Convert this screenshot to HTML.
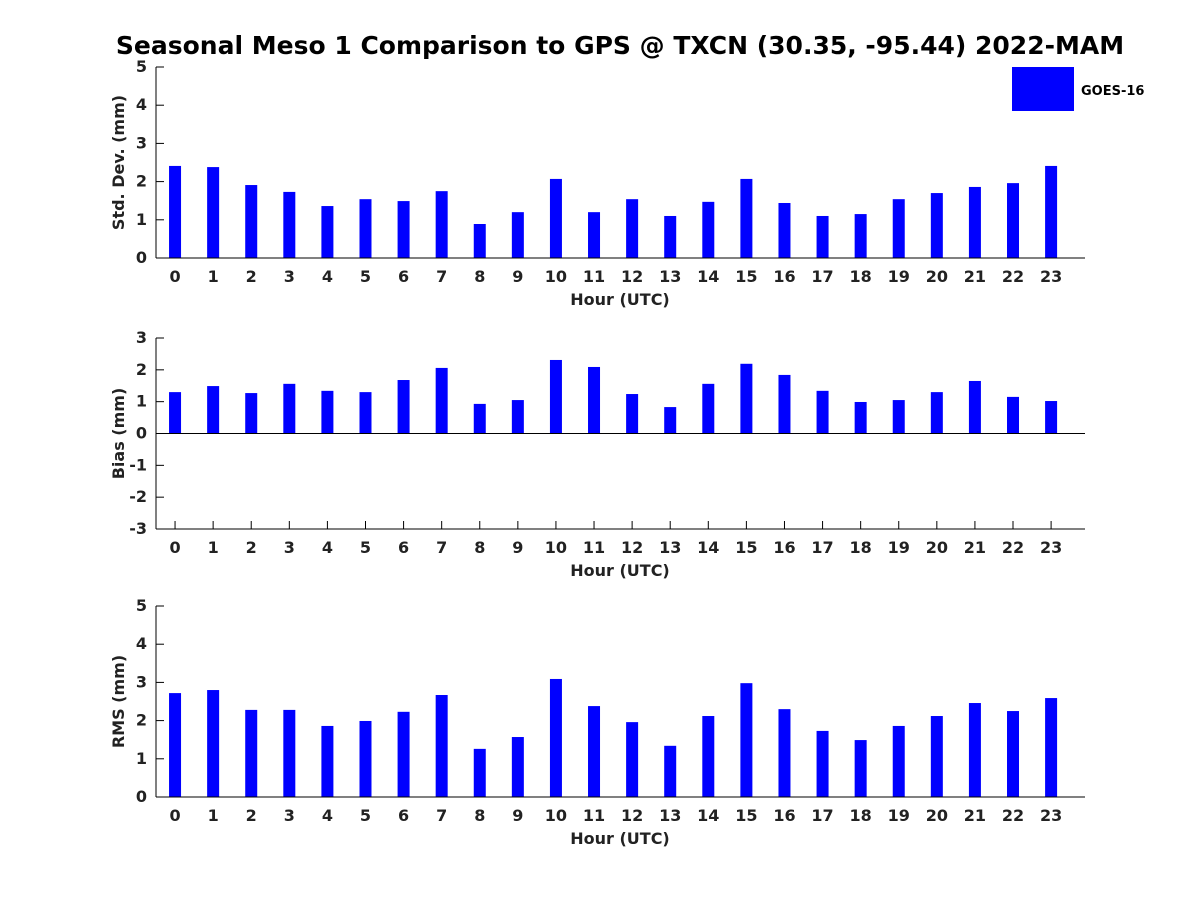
<!DOCTYPE html>
<html><head><meta charset="utf-8"><style>
body{margin:0;background:#fff;}
svg{display:block;font-family:"DejaVu Sans","Liberation Sans",sans-serif;font-weight:bold;}
</style></head><body>
<svg id="chart" width="1200" height="900">
<text x="620" y="54" font-size="25" text-anchor="middle" fill="#000">Seasonal Meso 1 Comparison to GPS @ TXCN (30.35, -95.44) 2022-MAM</text>
<g>
<rect x="1012" y="67" width="62" height="44" fill="#0000ff"></rect>
<text x="1081" y="95" font-size="13" fill="#000">GOES-16</text>
</g>
</svg>
<script>
const hours = [0,1,2,3,4,5,6,7,8,9,10,11,12,13,14,15,16,17,18,19,20,21,22,23];
const stdValues = [2.41,2.38,1.91,1.73,1.36,1.54,1.49,1.75,0.89,1.2,2.07,1.2,1.54,1.1,1.47,2.07,1.44,1.1,1.15,1.54,1.7,1.86,1.96,2.41];
const biasValues = [1.3,1.49,1.27,1.56,1.34,1.3,1.68,2.06,0.93,1.05,2.31,2.09,1.24,0.83,1.56,2.19,1.84,1.34,0.99,1.05,1.3,1.65,1.15,1.02];
const rmsValues = [2.72,2.8,2.28,2.28,1.86,1.99,2.23,2.67,1.26,1.57,3.09,2.38,1.96,1.34,2.12,2.98,2.3,1.73,1.49,1.86,2.12,2.46,2.25,2.59];
const stdTicks = [0,1,2,3,4,5];
const biasTicks = [-3,-2,-1,0,1,2,3];
const rmsTicks = [0,1,2,3,4,5];

const NS='http://www.w3.org/2000/svg';
const svg=document.getElementById('chart');
function mk(tag,attrs,parent){const e=document.createElementNS(NS,tag);for(const k in attrs)e.setAttribute(k,attrs[k]);(parent||svg).appendChild(e);return e;}
const X0=156,X1=1085,XMIN=-0.5,XMAX=23.89;
function xs(v){return X0+(v-XMIN)/(XMAX-XMIN)*(X1-X0);}

function panel(name,top,bottom,ymin,ymax,ticks,vals,ylabel){
  const g=mk('g',{});
  
  
  const ys=v=>bottom-(v-ymin)/(ymax-ymin)*(bottom-top);
  const bw=12;
  ticks.forEach(t=>{
    mk('line',{x1:X0,y1:ys(t),x2:X0+8,y2:ys(t),stroke:'#000'},g);
    const tx=mk('text',{x:X0-9,y:ys(t)+5,'font-size':16,'text-anchor':'end',fill:'#222'},g);
    tx.textContent=t;
    
    
  });
  hours.forEach(h=>{
    mk('line',{x1:xs(h),y1:bottom,x2:xs(h),y2:bottom-8,stroke:'#000'},g);
    const tx=mk('text',{x:xs(h),y:bottom+24,'font-size':16,'text-anchor':'middle',fill:'#222'},g);
    tx.textContent=h;
    
    
  });
  vals.forEach((v,i)=>{
    const y0=ys(0),y1=ys(v);
    const r=mk('rect',{x:xs(hours[i])-bw/2,y:Math.min(y0,y1),width:bw,height:Math.abs(y1-y0),fill:'#0000ff'},g);
    
    
  });
  const ax=mk('line',{x1:X0,y1:top,x2:X0,y2:bottom,stroke:'#000','stroke-width':1},g);
  
  
  const bx=mk('line',{x1:X0,y1:bottom,x2:X1,y2:bottom,stroke:'#000','stroke-width':1},g);
  
  
  if(ymin<0){
    const zl=mk('line',{x1:X0,y1:ys(0),x2:X1,y2:ys(0),stroke:'#000','stroke-width':1},g);
    
    
  }
  const xl=mk('text',{x:620,y:bottom+47,'font-size':16,'text-anchor':'middle',fill:'#222'},g);
  xl.textContent='Hour (UTC)';
  
  
  const cy=(top+bottom)/2;
  const yl=mk('text',{x:124,y:cy,'font-size':16,'text-anchor':'middle',fill:'#222',transform:'rotate(-90 124 '+cy+')'},g);
  yl.textContent=ylabel;
  
  
}
panel('std-dev',67,258,0,5,stdTicks,stdValues,'Std. Dev. (mm)');
panel('bias',338,529,-3,3,biasTicks,biasValues,'Bias (mm)');
panel('rms',606,797,0,5,rmsTicks,rmsValues,'RMS (mm)');
</script>
</body></html>
